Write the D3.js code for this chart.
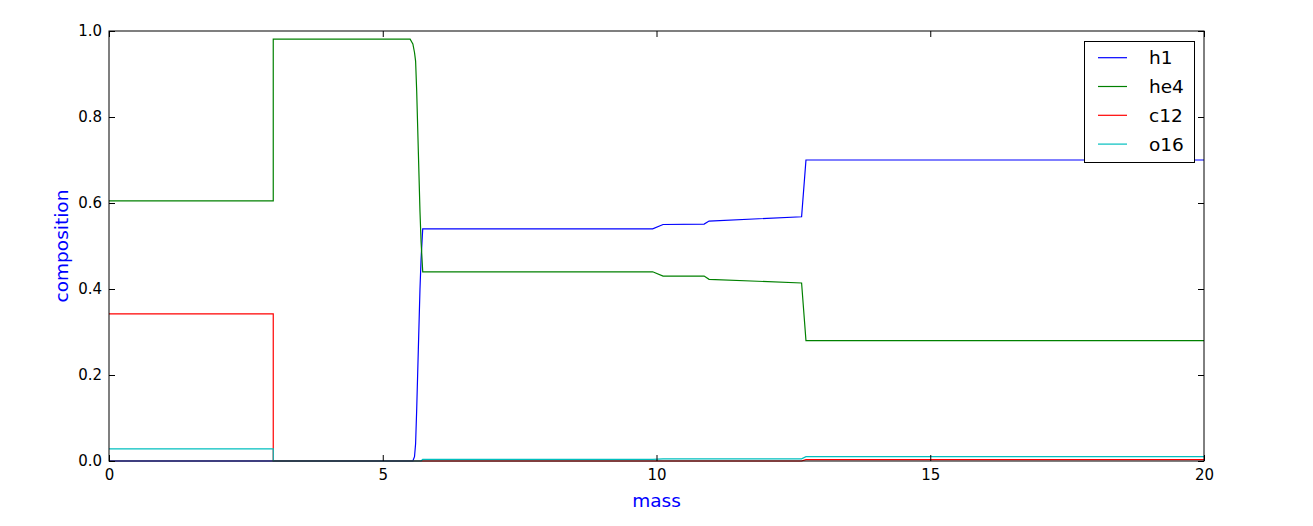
<!DOCTYPE html>
<html>
<head>
<meta charset="utf-8">
<script src="https://cdn.jsdelivr.net/npm/d3@7"></script>
<style>
  html, body { margin: 0; padding: 0; background: #fff; }
  svg { display: block; }
  text { font-family: "DejaVu Sans", sans-serif; }
</style>
</head>
<body>
<svg id="chart" width="1313" height="526"></svg>
<script>
// ---- data ----
const mass = [0, 3, 3, 5.50, 5.55, 5.58, 5.60, 5.62, 5.65, 5.68, 5.70, 5.73, 9.93, 10.12, 10.87, 10.96, 12.65, 12.73, 20];
const h1   = [0, 0, 0, 0, 0, 0.01, 0.04, 0.12, 0.26, 0.40, 0.47, 0.54, 0.54, 0.550, 0.551, 0.558, 0.568, 0.700, 0.700];
const he4  = [0.605, 0.605, 0.981, 0.981, 0.970, 0.950, 0.930, 0.860, 0.720, 0.580, 0.510, 0.440, 0.440, 0.430, 0.430, 0.4225, 0.414, 0.280, 0.280];
const c12  = [0.342, 0.342, 0, 0, 0, 0, 0, 0, 0, 0, 0, 0, 0, 0, 0, 0, 0, 0.003, 0.003];
const o16  = [0.028, 0.028, 0, 0, 0, 0, 0, 0, 0, 0, 0, 0.004, 0.004, 0.005, 0.005, 0.005, 0.005, 0.010, 0.010];
const seriesNames = ["h1", "he4", "c12", "o16"];
const seriesValues = [h1, he4, c12, o16];
const seriesColors = ["#0000ff", "#008000", "#ff0000", "#00bfbf"];
const xTicks = [0, 5, 10, 15, 20];
const yTicks = [0, 0.2, 0.4, 0.6, 0.8, 1.0];

// ---- layout ----
const L = 109, R = 1204, T = 31, B = 461;
const svg = d3.select("#chart");
const x = d3.scaleLinear().domain([0, 20]).range([L, R]);
const y = d3.scaleLinear().domain([0, 1]).range([B, T]);

// ---- lines ----
const line = d3.line().x(d => x(d[0])).y(d => y(d[1]));
seriesValues.forEach((vals, i) => {
  svg.append("path")
    .datum(mass.map((m, j) => [m, vals[j]]))
    .attr("d", line)
    .attr("fill", "none")
    .attr("stroke", seriesColors[i])
    .attr("stroke-width", 1.2);
});

// ---- axes ----
function styleAxis(g) {
  g.select(".domain").remove();
  g.selectAll(".tick line").attr("stroke", "#000").attr("stroke-width", 1);
  g.selectAll(".tick text").attr("fill", "#000").attr("font-size", 15).attr("font-family", "DejaVu Sans");
}
svg.append("g").attr("transform", `translate(0,${B})`)
  .call(d3.axisBottom(x).tickValues(xTicks).tickFormat(d3.format("d")).tickSize(-6).tickPadding(8))
  .call(styleAxis);
svg.append("g").attr("transform", `translate(0,${T})`)
  .call(d3.axisTop(x).tickValues(xTicks).tickFormat("").tickSize(-6))
  .call(styleAxis);
svg.append("g").attr("transform", `translate(${L},0)`)
  .call(d3.axisLeft(y).tickValues(yTicks).tickFormat(d3.format(".1f")).tickSize(-6).tickPadding(7))
  .call(styleAxis);
svg.append("g").attr("transform", `translate(${R},0)`)
  .call(d3.axisRight(y).tickValues(yTicks).tickFormat("").tickSize(-6))
  .call(styleAxis);

// frame
svg.append("rect")
  .attr("x", L).attr("y", T).attr("width", R - L).attr("height", B - T)
  .attr("fill", "none").attr("stroke", "#000").attr("stroke-width", 1);

// axis labels
svg.append("text")
  .attr("x", (L + R) / 2).attr("y", 507)
  .attr("text-anchor", "middle").attr("font-size", 18.5).attr("fill", "#0000ff")
  .text("mass");
svg.append("text")
  .attr("transform", `translate(68,${(T + B) / 2}) rotate(-90)`)
  .attr("text-anchor", "middle").attr("font-size", 18.5).attr("fill", "#0000ff")
  .text("composition");

// legend
const lg = svg.append("g");
lg.append("rect")
  .attr("x", 1084.5).attr("y", 41.5).attr("width", 110).attr("height", 121)
  .attr("fill", "#fff").attr("stroke", "#000").attr("stroke-width", 1);
seriesNames.forEach((n, i) => {
  const cy = 57.7 + i * 28.8;
  lg.append("line").attr("x1", 1098).attr("x2", 1127).attr("y1", cy).attr("y2", cy)
    .attr("stroke", seriesColors[i]).attr("stroke-width", 1.2);
  lg.append("text").attr("x", 1149).attr("y", cy).attr("dy", "0.36em")
    .attr("font-size", 18.5).attr("fill", "#000").text(n);
});
</script>
</body>
</html>
